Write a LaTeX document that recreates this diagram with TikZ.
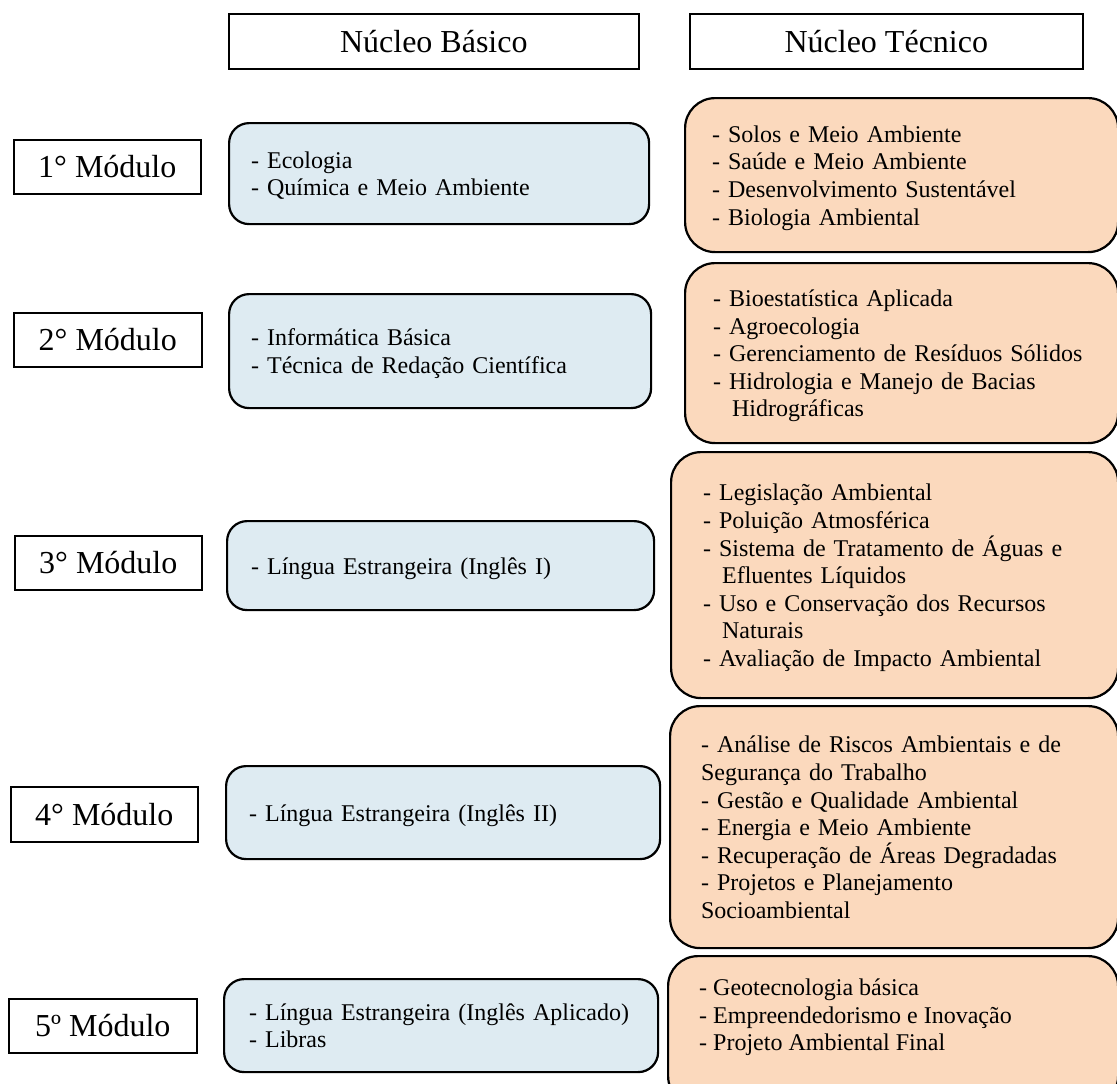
\documentclass[tikz,border=0pt]{standalone}
\usepackage{fontspec}
\setmainfont{Liberation Serif}
\usetikzlibrary{shadows}
\definecolor{bluefill}{HTML}{DEEBF2}
\definecolor{orangefill}{HTML}{FBD9BD}
\tikzset{
  hdr/.style={draw, line width=1.6pt, fill=white, anchor=north west, inner sep=0pt,
    font=\fontsize{32}{36}\selectfont,
    general shadow={fill=black!85, shadow xshift=0.9pt, shadow yshift=-0.9pt}},
  bbox/.style={draw, line width=2.2pt, rounded corners=20pt, fill=bluefill, anchor=north west,
    inner ysep=0pt, align=left, font=\fontsize{24}{27.6}\selectfont,
    general shadow={fill=black!85, shadow xshift=0.7pt, shadow yshift=-0.7pt}},
  obox/.style={bbox, rounded corners=30pt, fill=orangefill},
  lines/.style={execute at begin node={\rule{0pt}{23pt}},
    execute at end node={\rule[-6pt]{0pt}{6pt}}},
}
\begin{document}
\begin{tikzpicture}[x=1pt,y=-1pt]
\useasboundingbox (0,0) rectangle (1117,1084);
\clip (0,0) rectangle (1117,1084);

% headers
\node[hdr, minimum width=410pt, minimum height=55pt] (hb) at (228,13) {Núcleo Básico};
\node[hdr, minimum width=393pt, minimum height=55pt] (ht) at (689,13) {Núcleo Técnico};

% module labels
\node[hdr, minimum width=187pt, minimum height=54pt] (m1) at (13,139) {1° Módulo};
\node[hdr, minimum width=188pt, minimum height=54pt] (m2) at (13,312) {2° Módulo};
\node[hdr, minimum width=187pt, minimum height=54pt] (m3) at (14,535) {3° Módulo};
\node[hdr, minimum width=187pt, minimum height=55pt] (m4) at (10,786) {4° Módulo};
\node[hdr, minimum width=188pt, minimum height=54pt] (m5) at (8,998) {5º Módulo};

% basic core
\node[bbox, lines, inner xsep=22pt, text width=376pt, minimum height=101pt] (b1) at (228,122)
  {- Ecologia\\- Química e Meio Ambiente};
\node[bbox, lines, inner xsep=22pt, text width=378pt, minimum height=114pt] (b2) at (228,293)
  {- Informática Básica\\- Técnica de Redação Científica};
\node[bbox, lines, inner xsep=24pt, text width=379pt, minimum height=89pt] (b3) at (226,520)
  {- Língua Estrangeira (Inglês I)};
\node[bbox, lines, inner xsep=23pt, text width=388pt, minimum height=93pt] (b4) at (225,765)
  {- Língua Estrangeira (Inglês II)};
\node[bbox, lines, inner xsep=25pt, text width=384pt, minimum height=93pt] (b5) at (223,978)
  {- Língua Estrangeira (Inglês Aplicado)\\- Libras};

% technical core
\node[obox, lines, inner xsep=27pt, text width=379pt, minimum height=154pt] (o1) at (684,97)
  {- Solos e Meio Ambiente\\- Saúde e Meio Ambiente\\- Desenvolvimento Sustentável\\- Biologia Ambiental};
\node[obox, lines, inner xsep=28pt, text width=377pt, minimum height=180pt] (o2) at (684,262)
  {- Bioestatística Aplicada\\- Agroecologia\\- Gerenciamento de Resíduos Sólidos\\- Hidrologia e Manejo de Bacias\\\hspace*{19pt}Hidrográficas};
\node[obox, lines, inner xsep=32pt, text width=383pt, minimum height=246pt] (o3) at (670,451)
  {- Legislação Ambiental\\- Poluição Atmosférica\\- Sistema de Tratamento de Águas e\\\hspace*{19pt}Efluentes Líquidos\\- Uso e Conservação dos Recursos\\\hspace*{19pt}Naturais\\- Avaliação de Impacto Ambiental};
\node[obox, lines, inner xsep=31pt, text width=386pt, minimum height=242pt] (o4) at (669,705)
  {- Análise de Riscos Ambientais e de\\Segurança do Trabalho\\- Gestão e Qualidade Ambiental\\- Energia e Meio Ambiente\\- Recuperação de Áreas Degradadas\\- Projetos e Planejamento\\Socioambiental};
\node[obox, inner sep=0pt, minimum width=450pt, minimum height=150pt] (o5) at (667,955) {};
\node[lines, anchor=west, align=left, inner sep=0pt, font=\fontsize{24}{27.6}\selectfont] (o5t) at (699,1018)
  {- Geotecnologia básica\\- Empreendedorismo e Inovação\\- Projeto Ambiental Final};
\end{tikzpicture}
\end{document}
